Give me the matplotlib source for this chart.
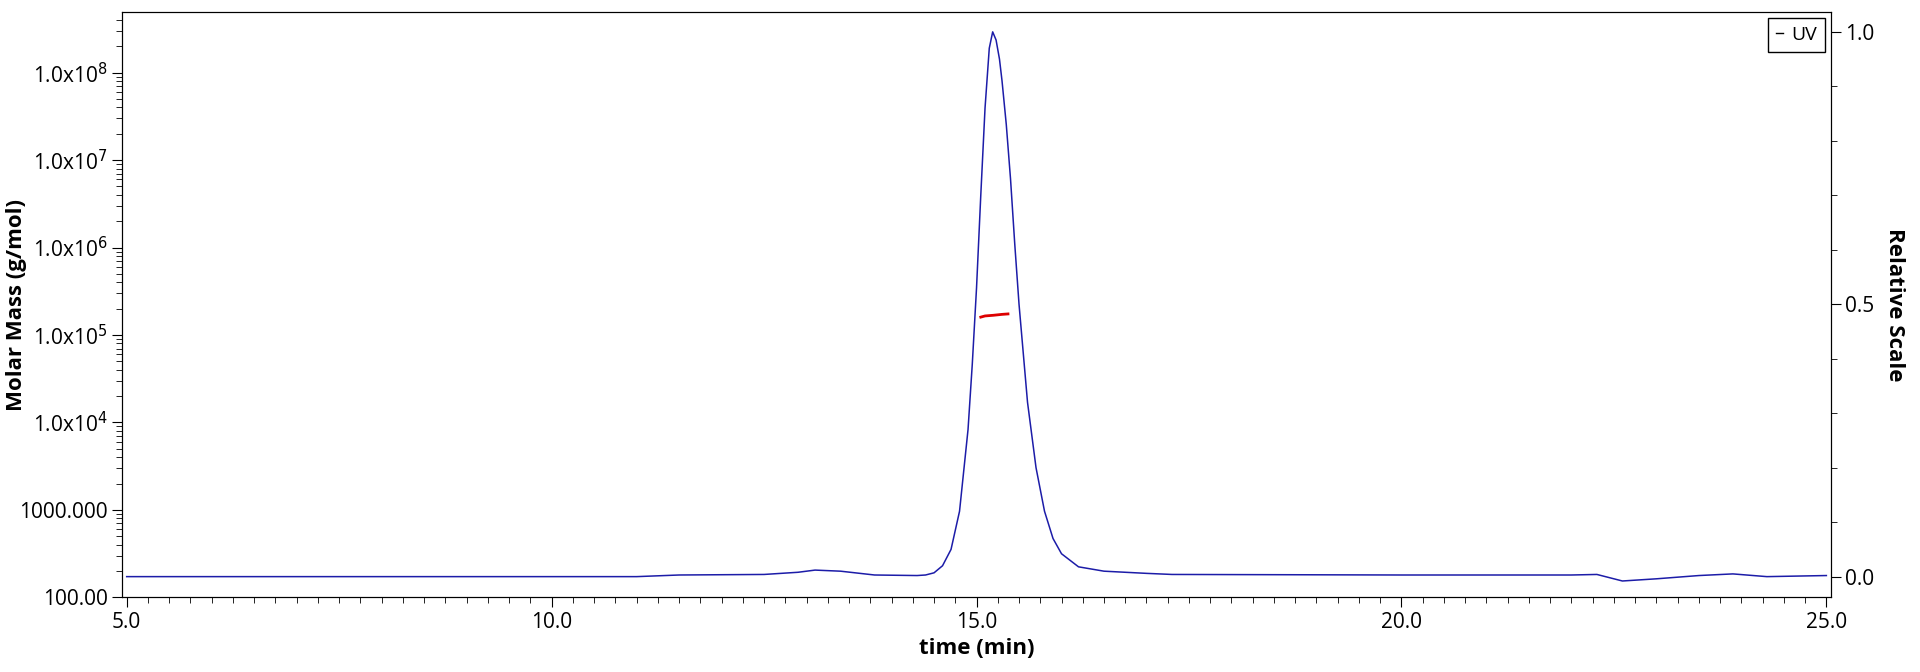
import matplotlib
matplotlib.use("Agg")
import matplotlib.pyplot as plt
import numpy as np
from matplotlib.ticker import FixedLocator, MultipleLocator, LogLocator, NullFormatter

plt.rcParams['font.family'] = ['Open Sans', 'DejaVu Sans']

uv_time = [5, 11, 11.5, 12.5, 12.9, 13.1, 13.4, 13.8, 14.3, 14.4, 14.5, 14.6, 14.7, 14.8, 14.9,
           14.95, 15.0, 15.05, 15.1, 15.15, 15.19, 15.23, 15.27, 15.3, 15.35, 15.4, 15.45,
           15.5, 15.6, 15.7, 15.8, 15.9, 16.0, 16.2, 16.5,
           17.0, 17.3, 20, 22, 22.3, 22.6, 23, 23.5, 23.9, 24.3, 25]
uv_value = [0, 0, 0.003, 0.004, 0.008, 0.012, 0.01, 0.003, 0.002, 0.003, 0.007, 0.02, 0.05,
            0.12, 0.27, 0.39, 0.53, 0.70, 0.86, 0.97, 1.0, 0.985, 0.95, 0.91, 0.83, 0.73, 0.61,
            0.50, 0.32, 0.20, 0.12, 0.07, 0.042,
            0.018, 0.01, 0.006, 0.004, 0.003, 0.003, 0.004, -0.008, -0.004, 0.002, 0.005, 0.0, 0.002]
mw_time = [15.05, 15.1, 15.2, 15.3, 15.37]
mw_value = [1.60e5, 1.65e5, 1.68e5, 1.72e5, 1.74e5]

fig = plt.figure(figsize=(19.2, 6.72), dpi=100)
ax = fig.add_axes([100/1568, 61/549, 1395/1568, 478/549])
ax2 = ax.twinx()

ax.set_yscale('log')
ax.set_ylim(100, 4.9e8)
ax.set_xlim(4.95, 25.05)
ax2.set_ylim(-0.038, 1.036)

ax2.plot(uv_time, uv_value, color='#1c1ca8', lw=1.1)
ax.plot(mw_time, mw_value, color='#dd0000', lw=2)

ax.set_zorder(ax2.get_zorder() + 1)
ax.patch.set_visible(False)

ax.xaxis.set_major_locator(FixedLocator([5, 10, 15, 20, 25]))
ax.set_xticklabels(['5.0', '10.0', '15.0', '20.0', '25.0'])
ax.xaxis.set_minor_locator(MultipleLocator(0.25))
ax.yaxis.set_major_locator(FixedLocator([1e2, 1e3, 1e4, 1e5, 1e6, 1e7, 1e8]))
ax.set_yticklabels(['100.00', '1000.000'] + [r'1.0x10$^{%d}$' % k for k in range(4, 9)])
ax.yaxis.set_minor_locator(LogLocator(base=10, subs=np.arange(2, 10)))
ax.yaxis.set_minor_formatter(NullFormatter())
ax2.yaxis.set_major_locator(FixedLocator([0, 0.5, 1.0]))
ax2.set_yticklabels(['0.0', '0.5', '1.0'])
ax2.yaxis.set_minor_locator(MultipleLocator(0.1))

for a in (ax, ax2):
    a.tick_params(labelsize=15, length=7, direction='out')
    a.tick_params(which='minor', length=4)
ax.set_xlabel('time (min)', fontsize=16, fontweight='bold')
ax.set_ylabel('Molar Mass (g/mol)', fontsize=16, fontweight='bold')
ax.yaxis.set_label_coords(-0.056, 0.5)
ax2.set_ylabel('Relative Scale', fontsize=16, fontweight='bold', rotation=270, labelpad=22)

ax2.legend([plt.Line2D([], [], color='k', lw=1)], ['UV'], loc='upper right',
           fontsize=14, fancybox=False, edgecolor='k', handlelength=0.4,
           handletextpad=0.4, borderaxespad=0.3, framealpha=1)

fig.savefig('out.png', dpi=100)
